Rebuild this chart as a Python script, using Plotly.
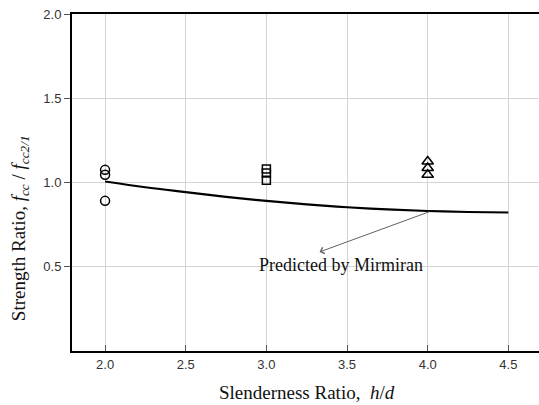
import plotly.graph_objects as go

# Measured strength ratios by slenderness ratio
circle_x = [2.0, 2.0, 2.0]
circle_y = [1.075, 1.046, 0.891]
square_x = [3.0, 3.0, 3.0]
square_y = [1.080, 1.056, 1.014]
triangle_x = [4.0, 4.0, 4.0]
triangle_y = [1.125, 1.086, 1.046]

# Mirmiran model prediction
model_x = [2.0, 2.25, 2.5, 2.75, 3.0, 3.25, 3.5, 3.75, 4.0, 4.25, 4.5]
model_y = [1.006, 0.972, 0.943, 0.915, 0.891, 0.870, 0.853, 0.840, 0.831, 0.825, 0.822]

x_ticks = [2.0, 2.5, 3.0, 3.5, 4.0, 4.5]
y_ticks = [0.5, 1.0, 1.5, 2.0]

marker_line = dict(color="black", width=1.5)

fig = go.Figure()
fig.add_trace(go.Scatter(x=model_x, y=model_y, mode="lines",
                         line=dict(color="black", width=2.2, shape="spline")))
fig.add_trace(go.Scatter(x=circle_x, y=circle_y, mode="markers",
                         marker=dict(symbol="circle-open", size=9, color="black", line=marker_line)))
fig.add_trace(go.Scatter(x=square_x, y=square_y, mode="markers",
                         marker=dict(symbol="square-open", size=8, color="black", line=marker_line)))
fig.add_trace(go.Scatter(x=triangle_x, y=triangle_y, mode="markers",
                         marker=dict(symbol="triangle-up-open", size=10, color="black", line=marker_line)))

serif = "Liberation Serif, Times New Roman, serif"
sans = "Liberation Sans, Arial, sans-serif"

# Leader arrow from the model curve to its label
fig.add_annotation(x=3.33, y=0.588, ax=4.02, ay=0.83, xref="x", yref="y",
                   axref="x", ayref="y", text="", showarrow=True,
                   arrowhead=4, arrowsize=1.3, arrowwidth=1, arrowcolor="#606060")
fig.add_annotation(x=3.46, y=0.51, xref="x", yref="y", text="Predicted by Mirmiran",
                   showarrow=False, font=dict(family=serif, size=18, color="#111"))

fig.add_annotation(x=0.503, y=-0.122, xref="paper", yref="paper",
                   text="Slenderness Ratio,  <i>h</i>/<i>d</i>", showarrow=False,
                   xanchor="center", yanchor="middle",
                   font=dict(family=serif, size=19, color="#111"))
fig.add_annotation(x=-0.111, y=0.365, xref="paper", yref="paper",
                   text="Strength Ratio, <i>f</i><sub><i>cc</i></sub> / <i>f</i><sub><i>cc2/1</i></sub>",
                   showarrow=False, textangle=-90, xanchor="center", yanchor="middle",
                   font=dict(family=serif, size=19, color="#111"))

fig.update_xaxes(range=[1.795, 4.69], tickvals=x_ticks, ticktext=[f"{v:.1f}" for v in x_ticks],
                 showgrid=True, gridcolor="#d4d4d4", gridwidth=1, zeroline=False,
                 showline=True, linecolor="black", linewidth=2, mirror=True,
                 ticks="inside", ticklen=6, tickcolor="#555",
                 tickfont=dict(family=sans, size=13, color="#333"))
fig.update_yaxes(range=[0, 2.0], tickvals=y_ticks, ticktext=[f"{v:.1f}" for v in y_ticks],
                 showgrid=True, gridcolor="#d4d4d4", gridwidth=1, zeroline=False,
                 showline=True, linecolor="black", linewidth=2, mirror=False,
                 ticks="outside", ticklen=6, tickcolor="#555",
                 tickfont=dict(family=sans, size=13, color="#333"))

fig.update_layout(width=539, height=405, showlegend=False,
                  margin=dict(l=72, r=0, t=14, b=54),
                  paper_bgcolor="white", plot_bgcolor="white")

fig.write_html("out.html")
